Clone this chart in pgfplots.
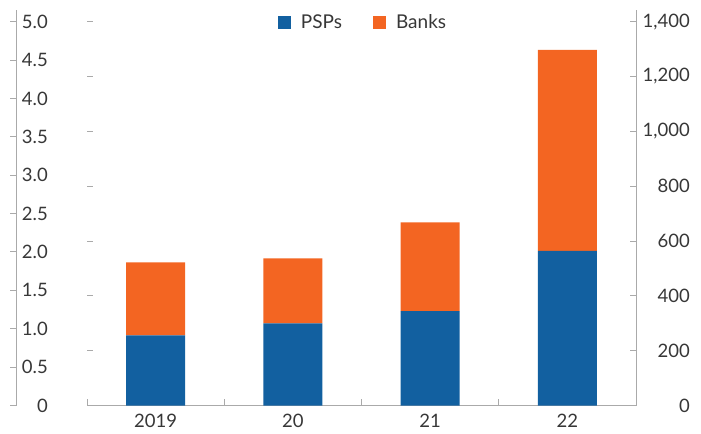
\documentclass[border=0pt]{standalone}
\usepackage{fontspec}
\setmainfont{Lato}
\usepackage{pgfplots}
\pgfplotsset{compat=1.18}
\definecolor{barblue}{RGB}{18,96,160}
\definecolor{barorange}{RGB}{243,101,34}
\definecolor{axgray}{RGB}{170,170,170}
\definecolor{txtgray}{RGB}{55,55,55}
\newcommand{\tfont}{\fontsize{18.5bp}{22bp}\selectfont}
\begin{document}
\begin{tikzpicture}
\useasboundingbox (0,0) rectangle (701bp,434bp);
% left separate axis (0 - 5.0)
\begin{axis}[
  at={(0bp,28.5bp)}, anchor=south west,
  scale only axis, width=16bp, height=395.5bp,
  xmin=0, xmax=1, ymin=0, ymax=5.152,
  hide x axis,
  axis y line*=right,
  y axis line style={draw=axgray, line width=1pt, -},
  ytick={0,0.5,1,1.5,2,2.5,3,3.5,4,4.5,5},
  yticklabels={0,0.5,1.0,1.5,2.0,2.5,3.0,3.5,4.0,4.5,5.0},
  tick align=inside,
  major tick length=6bp,
  ytick style={draw=axgray, line width=1pt},
  yticklabel style={anchor=east, xshift=32bp, inner sep=0pt, font=\tfont, text=txtgray},
]
\addplot[draw=none] coordinates {(0,0)};
\end{axis}
% left ticks of main axis (no line)
\begin{axis}[
  at={(87bp,28.5bp)}, anchor=south west,
  scale only axis, width=549bp, height=395.5bp,
  xmin=-0.5, xmax=3.5, ymin=0, ymax=1442.7,
  hide x axis,
  axis y line*=left,
  y axis line style={draw=none},
  ytick={200,400,600,800,1000,1200,1400},
  yticklabels={},
  tick align=inside,
  major tick length=6bp,
  ytick style={draw=axgray, line width=0.8pt},
]
\addplot[draw=none] coordinates {(0,0)};
\end{axis}
% main axis with bars and right axis
\begin{axis}[
  at={(87bp,28.5bp)}, anchor=south west,
  scale only axis, width=549bp, height=395.5bp,
  xmin=-0.5, xmax=3.5, ymin=0, ymax=1442.7,
  axis x line*=bottom,
  axis y line*=right,
  axis line style={draw=axgray, line width=1pt, -},
  xtick={-0.5,0.5,1.5,2.5,3.5},
  xticklabels={},
  extra x ticks={0,1,2,3},
  extra x tick labels={2019,20,21,22},
  extra x tick style={major tick length=0pt},
  ytick={0,200,400,600,800,1000,1200,1400},
  tick align=inside,
  major tick length=6.5bp,
  tick style={draw=axgray, line width=1pt},
  /pgf/number format/assume math mode=true,
  /pgf/number format/.cd, 1000 sep={,}, /pgfplots/.cd,
  yticklabel style={anchor=east, xshift=54bp, inner sep=0pt, font=\tfont, text=txtgray},
  xticklabel style={font=\tfont, text=txtgray, inner sep=0pt, yshift=-8bp, anchor=north},
  ybar stacked, bar width=59bp,
  legend columns=2,
  legend style={at={(0.501,0.968)}, anchor=center, draw=none, fill=none,
    font=\fontsize{19bp}{22bp}\selectfont, text=txtgray,
    nodes={inner sep=0pt},
    /tikz/every odd column/.append style={column sep=10bp},
    /tikz/every even column/.append style={column sep=31bp}},
  legend image code/.code={\fill[#1] (0bp,-6.5bp) rectangle (13bp,6.5bp);},
]
\addplot[fill=barblue, draw=none] coordinates {(0,256) (1,300) (2,344) (3,564)};
\addplot[fill=barorange, draw=none] coordinates {(0,266) (1,237) (2,324) (3,733)};
\legend{PSPs,Banks}
\end{axis}
\end{tikzpicture}
\end{document}
